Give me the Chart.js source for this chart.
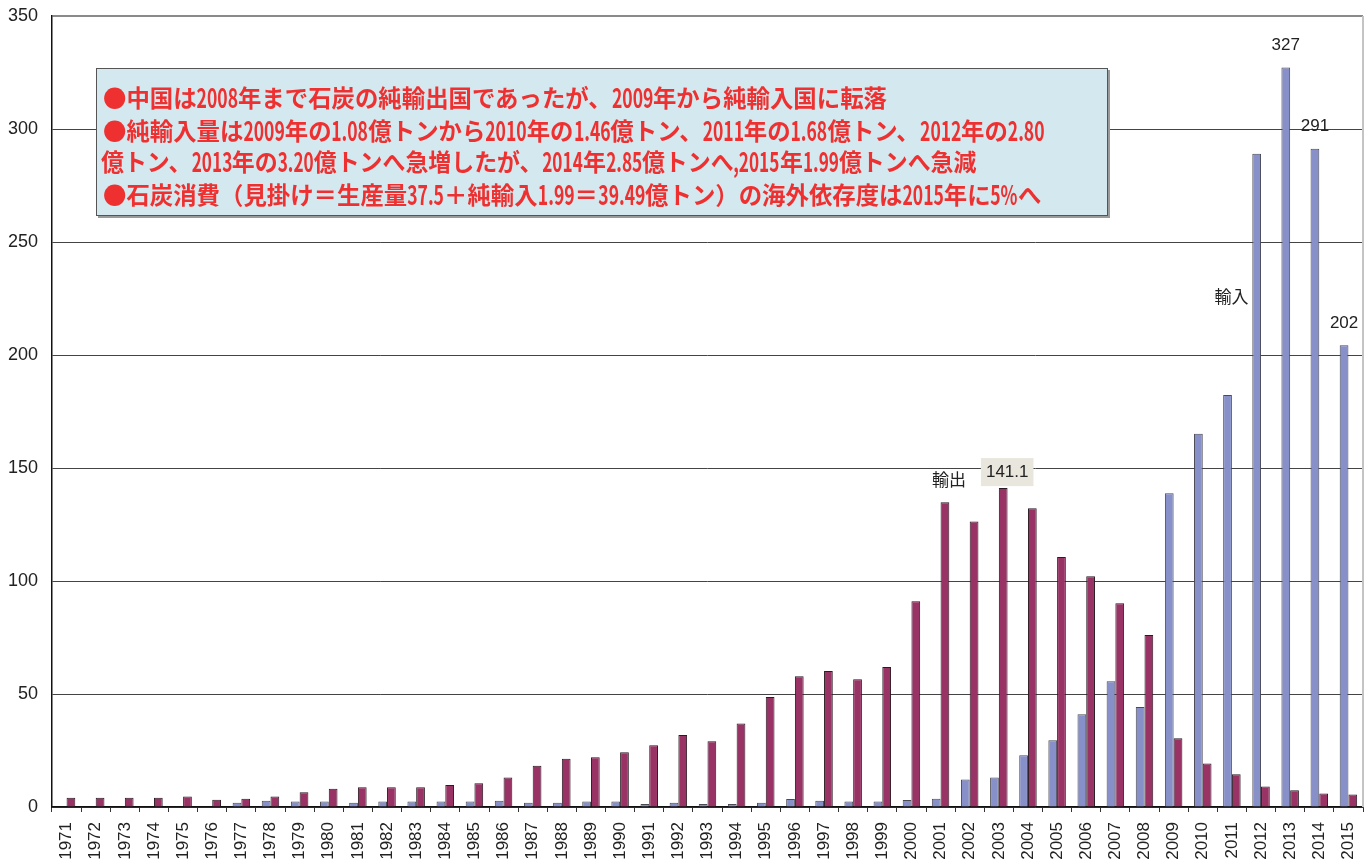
<!DOCTYPE html>
<html lang="ja">
<head>
<meta charset="utf-8">
<title>中国の石炭輸出入</title>
<script src="https://cdn.jsdelivr.net/npm/chart.js@4/dist/chart.umd.min.js"></script>
<style>
  html, body { margin: 0; padding: 0; background: #fff; }
  #wrap { position: relative; width: 1371px; height: 863px; }
  #note {
    position: absolute; left: 96px; top: 68px; width: 1010px; height: 146px;
    background: #d3e9ef; border: 1px solid #555;
    box-shadow: 2px 2px 0 #9a9a9a;
  }
  #note div {
    position: absolute; left: 6px; white-space: nowrap;
    font-family: "Noto Sans CJK JP", sans-serif; font-weight: bold;
    font-size: 24px; line-height: 28px; color: #ee3030;
    transform-origin: left center; transform: scaleX(0.975);
  }
  #note span.n {
    display: inline-block; transform-origin: left center; transform: scale(0.75, 1.1);
  }
</style>
</head>
<body>
<div id="wrap">
  <canvas id="coalChart" width="1371" height="863"></canvas>
  <div id="note">
    <div style="top:14px">●中国は2008年まで石炭の純輸出国であったが、2009年から純輸入国に転落</div>
    <div style="top:47px">●純輸入量は2009年の1.08億トンから2010年の1.46億トン、2011年の1.68億トン、2012年の2.80</div>
    <div style="top:78px;left:4px;transform:scaleX(0.955)">億トン、2013年の3.20億トンへ急増したが、2014年2.85億トンへ,2015年1.99億トンへ急減</div>
    <div style="top:111px">●石炭消費（見掛け＝生産量37.5＋純輸入1.99＝39.49億トン）の海外依存度は2015年に5%へ</div>
  </div>
</div>
<script>
const years = ['1971','1972','1973','1974','1975','1976','1977','1978','1979','1980',
    '1981','1982','1983','1984','1985','1986','1987','1988','1989','1990',
    '1991','1992','1993','1994','1995','1996','1997','1998','1999','2000',
    '2001','2002','2003','2004','2005','2006','2007','2008','2009','2010',
    '2011','2012','2013','2014','2015'];

// 輸入 (million t)
const importValues = [0, 0, 0, 0, 0, 0, 1.9, 2.8, 2.4, 2.4,
    1.9, 2.4, 2.4, 2.4, 2.4, 2.8, 1.9, 1.9, 2.4, 2.4,
    1.3, 1.9, 1.3, 1.3, 1.9, 3.5, 2.8, 2.4, 2.4, 3.1,
    3.7, 12.2, 13.1, 22.9, 29.5, 41.0, 55.6, 44.3, 138.8, 165.1,
    182.3, 289.0, 327.2, 291.3, 204.3];

// 輸出 (million t)
const exportValues = [4.1, 4.1, 4.1, 4.1, 4.7, 3.2, 3.7, 4.6, 6.5, 8.1,
    8.7, 8.7, 8.7, 9.7, 10.5, 13.1, 18.3, 21.4, 22.0, 24.2,
    27.3, 31.9, 29.1, 37.0, 48.7, 57.8, 60.2, 56.5, 62.0, 91.0,
    134.8, 126.3, 141.1, 132.2, 110.6, 102.1, 90.1, 76.1, 30.4, 19.2,
    14.5, 9.1, 7.4, 6.0, 5.5];

const yTicks = [0, 50, 100, 150, 200, 250, 300, 350];

// value labels above the import bars
const importLabelYears = ['2013', '2014', '2015'];
const importLabelTexts = ['327', '291', '202'];

// series names written in the plot
const seriesNotes = [
    { text: '輸入', dataset: 0, year: '2011', value: 226 },
    { text: '輸出', dataset: 1, year: '2001', value: 145 }
];
const peakExportYear = '2003';
const peakExportText = '141.1';

// narrow the latin runs of the note text so they look like the condensed original
document.querySelectorAll('#note div').forEach(line => {
    line.innerHTML = line.textContent.replace(/([0-9.,%]+)/g, '<span class="n">$1</span>');
});
document.querySelectorAll('#note span.n').forEach(s => {
    s.style.marginRight = (-s.offsetWidth * 0.25) + 'px';
});

const annotationPlugin = {
    id: 'annotations',
    afterDatasetsDraw(chart) {
        const ctx = chart.ctx;
        const area = chart.chartArea;
        const yScale = chart.scales.y;
        ctx.save();

        // light right border of the plot
        ctx.strokeStyle = '#c4c4c4';
        ctx.lineWidth = 2;
        ctx.beginPath();
        ctx.moveTo(area.right, area.top);
        ctx.lineTo(area.right, area.bottom);
        ctx.stroke();

        ctx.fillStyle = '#222';
        ctx.textAlign = 'center';
        ctx.textBaseline = 'middle';
        ctx.font = '17px "Liberation Sans", sans-serif';

        const importMeta = chart.getDatasetMeta(0);
        importLabelYears.forEach((yr, i) => {
            const bar = importMeta.data[years.indexOf(yr)];
            ctx.fillText(importLabelTexts[i], bar.x, bar.y - 22);
        });

        ctx.font = '17px "Noto Sans CJK JP", sans-serif';
        seriesNotes.forEach(n => {
            const bar = chart.getDatasetMeta(n.dataset).data[years.indexOf(n.year)];
            ctx.fillText(n.text, bar.x + 4, yScale.getPixelForValue(n.value));
        });

        // boxed peak label
        const peak = chart.getDatasetMeta(1).data[years.indexOf(peakExportYear)];
        const cy = peak.y - 16;
        ctx.font = '17px "Liberation Sans", sans-serif';
        const w = ctx.measureText(peakExportText).width + 10;
        ctx.fillStyle = '#e9e6dd';
        ctx.fillRect(peak.x + 4 - w / 2, cy - 14, w, 28);
        ctx.fillStyle = '#222';
        ctx.fillText(peakExportText, peak.x + 4, cy);

        ctx.restore();
    }
};

const ctx = document.getElementById('coalChart').getContext('2d');
new Chart(ctx, {
    type: 'bar',
    data: {
        labels: years,
        datasets: [{
            label: '輸入',
            data: importValues,
            backgroundColor: '#8890c9',
            borderColor: '#4a4a55',
            borderWidth: 1,
            categoryPercentage: 0.6,
            barPercentage: 1.0
        }, {
            label: '輸出',
            data: exportValues,
            backgroundColor: '#993366',
            borderColor: '#2a1a22',
            borderWidth: 1,
            categoryPercentage: 0.6,
            barPercentage: 1.0
        }]
    },
    options: {
        responsive: false,
        animation: false,
        layout: { padding: { top: 16, right: 8, left: 0, bottom: 0 } },
        plugins: {
            legend: { display: false },
            tooltip: { enabled: false }
        },
        scales: {
            x: {
                offset: true,
                afterFit: scale => {
                    scale.height = 56;
                    scale.paddingLeft = 0;
                    scale.paddingRight = 0;
                },
                grid: {
                    offset: true,
                    drawOnChartArea: false,
                    drawTicks: true,
                    tickLength: 5,
                    color: '#333'
                },
                border: { color: '#111', width: 1.5 },
                ticks: {
                    autoSkip: false,
                    maxRotation: 90,
                    minRotation: 90,
                    padding: 10,
                    color: '#222',
                    font: { family: '"Liberation Sans", sans-serif', size: 17 }
                }
            },
            y: {
                min: 0,
                max: 350,
                afterFit: scale => {
                    scale.width = 52;
                    scale.paddingTop = 0;
                    scale.paddingBottom = 0;
                },
                afterBuildTicks: scale => { scale.ticks = yTicks.map(v => ({ value: v })); },
                grid: {
                    color: ctx2 => ctx2.tick.value === 350 ? '#8a8a8a' : '#444',
                    lineWidth: ctx2 => ctx2.tick.value === 350 ? 2 : 1,
                    drawTicks: false
                },
                border: { color: '#111', width: 1.5 },
                ticks: {
                    padding: 14,
                    color: '#222',
                    font: { family: '"Liberation Sans", Arial, sans-serif', size: 18 }
                }
            }
        }
    },
    plugins: [annotationPlugin]
});
</script>
</body>
</html>
